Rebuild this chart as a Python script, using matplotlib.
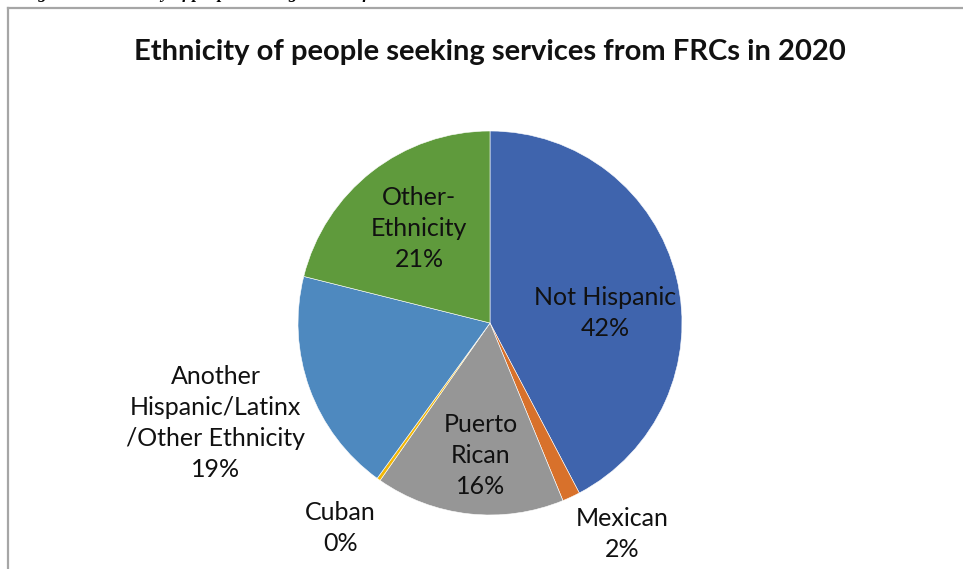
import numpy as np
import matplotlib
matplotlib.use('Agg')
import matplotlib.pyplot as plt
from matplotlib.lines import Line2D

plt.rcParams['font.family'] = ['Lato', 'DejaVu Sans']

## 데이터
categories = ['Not Hispanic', 'Mexican', 'Puerto\nRican', 'Cuban',
              'Another\nHispanic/Latinx\n/Other Ethnicity', 'Other-\nEthnicity']
shares = [42.3, 1.5, 15.9, 0.3, 18.9, 21.1]
colors = ['#3F64AD', '#D8712B', '#969696', '#F2B705', '#4E89BF', '#5F9A3C']

# 라벨 위치 (파이 반지름 단위)
label_pos = [(0.60, 0.05), (0.69, -1.10), (-0.05, -0.69), (-0.78, -1.07),
             (-1.43, -0.52), (-0.37, 0.49)]

W, H = 963, 569
fig = plt.figure(figsize=(W / 100, H / 100), dpi=100)

# 상단 캡션 (잘린 부분)
fig.text(22 / W, 1 + 2.5 / H, 'Figure 10: Ethnicity of people seeking services from FRCs',
         family='Liberation Serif', style='italic', weight='bold', fontsize=12.5,
         ha='left', va='baseline')

# 차트 테두리
fig.add_artist(Line2D([8 / W, 8 / W], [0, 1 - 8 / H], transform=fig.transFigure,
                      color='#A6A6A6', lw=1.6))
fig.add_artist(Line2D([8 / W, 1], [1 - 8 / H, 1 - 8 / H], transform=fig.transFigure,
                      color='#A6A6A6', lw=1.6))

# 파이 영역
cx, cy, r = 490, 323, 192
ax = fig.add_axes([(cx - r) / W, (H - cy - r) / H, 2 * r / W, 2 * r / H])
ax.pie(shares, colors=colors, startangle=90, counterclock=False, radius=1,
       wedgeprops=dict(edgecolor='white', linewidth=0.4))
ax.set_xlim(-1, 1)
ax.set_ylim(-1, 1)
ax.set_aspect('equal')
ax.axis('off')

total = sum(shares)
for name, v, (lx, ly) in zip(categories, shares, label_pos):
    ax.text(lx, ly, f'{name}\n{v / total * 100:.0f}%', ha='center', va='center',
            fontsize=18, linespacing=1.42, color='#111111', clip_on=False)

fig.text(490 / W, 1 - 52 / H, 'Ethnicity of people seeking services from FRCs in 2020',
         ha='center', va='center', fontsize=21, weight='bold', color='#111111')

fig.savefig('out.png', dpi=100)
